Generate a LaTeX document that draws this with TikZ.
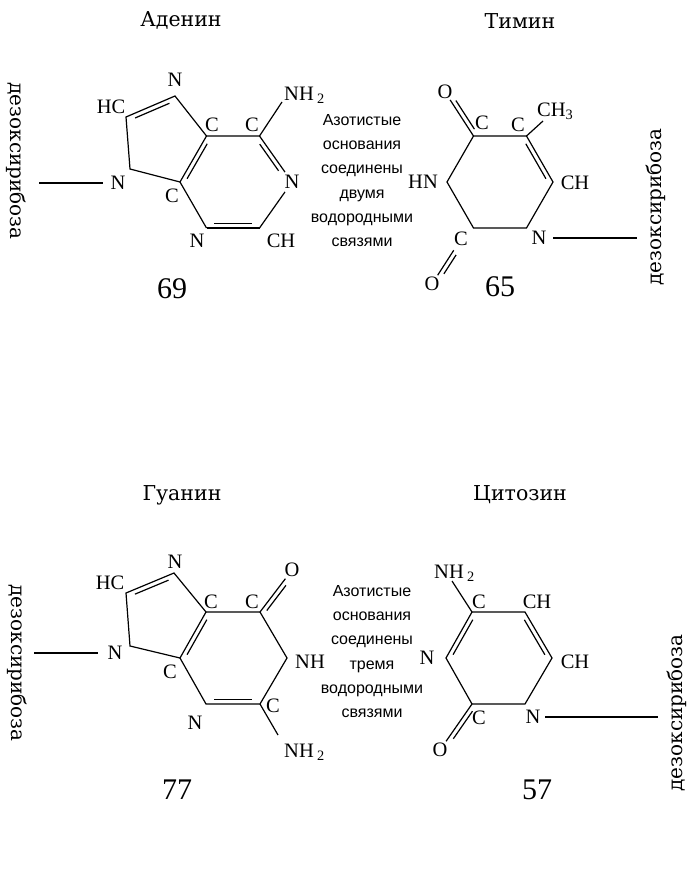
\documentclass[tikz,border=0pt]{standalone}
\usepackage{fontspec}
\setmainfont{Liberation Serif}
\setsansfont{Liberation Sans}
\newfontfamily\ttlfont{DejaVu Serif}
\usetikzlibrary{calc}
\tikzset{
  bond/.style={line width=1.2bp, black, line join=miter},
  atom/.style={inner sep=0pt, font=\fontsize{20.5bp}{24bp}\selectfont},
  ttl/.style={inner sep=0pt, font=\ttlfont\fontsize{20.5bp}{22bp}\selectfont},
  sugar/.style={inner sep=0pt, font=\ttlfont\fontsize{20bp}{22bp}\selectfont},
  num/.style={inner sep=0pt, font=\fontsize{30bp}{34bp}\selectfont},
  note/.style={inner sep=0pt, align=center, font=\sffamily\fontsize{16bp}{24.3bp}\selectfont},
}
\newcommand\dbl[5]{\draw[bond] ($(#1)!#4!(#2)!4.5bp!#3:(#2)$) -- ($(#2)!#5!(#1)!-4.5bp!#3:(#1)$);}
\begin{document}
\begin{tikzpicture}[x=1bp,y=-1bp]
\fill[white] (0,0) rectangle (694,869);
\useasboundingbox (0,0) rectangle (694,869);

% ================= Adenine =================
\node[ttl] (tA) at (181,20) {Аденин};
\node[sugar, rotate=-90] (sA) at (16,161) {дезоксирибоза};
\coordinate (a8) at (180,182);
\coordinate (a4) at (206.5,136);
\coordinate (a5) at (259.5,136);
\coordinate (a2) at (259.5,228);
\coordinate (a3) at (206.5,228);
\coordinate (ant) at (175,96);
\coordinate (ahc) at (126,117);
\coordinate (anl) at (130,169);
\coordinate (anh) at (282,102);
\coordinate (aL) at (39,183);
\node[atom, inner sep=3bp] (anr) at (292,182) {N};
\node[atom] (lahc) at (111,107) {HC};
\node[atom] (lant) at (175,80) {N};
\node[atom] (la4) at (212,125) {C};
\node[atom] (la5) at (252,125) {C};
\node[atom, anchor=west] (lanh) at (284,95) {NH\,\textsubscript{2}};
\node[atom] (la2) at (281,241) {CH};
\node[atom] (la3) at (197,241) {N};
\node[atom] (la8) at (172,196) {C};
\node[atom] (lanl) at (118,183) {N};
\draw[bond] (a3) -- (a8) -- (a4) -- (a5);
\draw[bond] (a5) -- (anr);
\draw[bond] (anr) -- (a2);
\draw[bond] (a2) -- (a3);
\draw[bond] (a4) -- (ant) -- (ahc) -- (anl) -- (a8);
\draw[bond] (a5) -- (anh);
\draw[bond, shorten >=7.6bp] (aL) -- (lanl);
\dbl{ahc}{ant}{-90}{0.15}{0.15}
\dbl{a4}{a8}{90}{0.12}{0.12}
\dbl{a5}{anr}{-90}{0.12}{0.3}
\dbl{a3}{a2}{90}{0.15}{0.15}
\node[num] (nA) at (172,289) {69};

\node[note] (noteT) at (362,180.5) {Азотистые\\основания\\соединены\\двумя\\водородными\\связями};

% ================= Thymine =================
\node[ttl] (tT) at (520,21) {Тимин};
\node[sugar, rotate=90] (sT) at (656,207) {дезоксирибоза};
\coordinate (t1) at (473.5,136);
\coordinate (t2) at (526.5,136);
\coordinate (t3) at (553,182);
\coordinate (t4) at (526.5,228);
\coordinate (t5) at (473.5,228);
\coordinate (t6) at (447,182);
\coordinate (tme) at (543,121);
\coordinate (tR) at (637,238);
\node[atom] (tO) at (445,92) {O};
\node[atom] (lt1) at (482,123) {C};
\node[atom] (lt2) at (518,125) {C};
\node[atom, anchor=west] (ltme) at (537,111) {CH\textsubscript{3}};
\node[atom] (lt3) at (575,183) {CH};
\node[atom] (lt4) at (539,238) {N};
\node[atom] (lt5) at (461,239) {C};
\node[atom] (lt6) at (423,182) {HN};
\node[atom] (tOb) at (432,284) {O};
\draw[bond] (t1) -- (t2) -- (t3) -- (t4) -- (t5) -- (t6) -- cycle;
\dbl{t2}{t3}{-90}{0.12}{0.12}
\draw[bond, shorten >=1bp] (t1) -- (tO);
\dbl{t1}{tO}{-90}{0.1}{0.25}
\draw[bond] (t2) -- (tme);
\draw[bond, shorten <=5bp, shorten >=2bp] (lt5) -- (tOb);
\draw[bond] ($(lt5)!0.3!(tOb)!4.5bp!90:(tOb)$) -- ($(tOb)!0.28!(lt5)!-4.5bp!90:(lt5)$);
\draw[bond, shorten <=6.5bp] (lt4) -- (tR);
\node[num] (nT) at (500,287) {65};

% ================= Guanine =================
\node[ttl] (tG) at (182,495) {Гуанин};
\node[sugar, rotate=-90] (sG) at (17,663) {дезоксирибоза};
\coordinate (g8) at (180,658);
\coordinate (g1) at (206,612);
\coordinate (g2) at (260,612);
\coordinate (g3) at (287,658);
\coordinate (g5) at (260,704);
\coordinate (g6) at (206,704);
\coordinate (gnt) at (174,573);
\coordinate (ghc) at (126,593);
\coordinate (gnl) at (130,646);
\coordinate (gnh) at (278,735);
\coordinate (gL) at (34,653);
\node[atom] (gO) at (292,570) {O};
\node[atom] (lghc) at (110,583) {HC};
\node[atom] (lgnt) at (175,562) {N};
\node[atom] (lg1) at (211,602) {C};
\node[atom] (lg2) at (252,602) {C};
\node[atom] (lg3) at (310,662) {NH};
\node[atom] (lg5) at (273,706) {C};
\node[atom, anchor=west] (lgnh) at (284,752) {NH\,\textsubscript{2}};
\node[atom] (lg6) at (195,723) {N};
\node[atom] (lg8) at (170,672) {C};
\node[atom] (lgnl) at (115,653) {N};
\draw[bond] (g8) -- (g1) -- (g2) -- (g3) -- (g5) -- (g6) -- cycle;
\draw[bond] (g1) -- (gnt) -- (ghc) -- (gnl) -- (g8);
\draw[bond, shorten >=2bp] (g2) -- (gO);
\dbl{g2}{gO}{-90}{0.1}{0.3}
\draw[bond] (g5) -- (gnh);
\draw[bond, shorten >=9.6bp] (gL) -- (lgnl);
\dbl{ghc}{gnt}{-90}{0.15}{0.15}
\dbl{g1}{g8}{90}{0.12}{0.12}
\dbl{g6}{g5}{90}{0.15}{0.15}
\node[num] (nG) at (177,790) {77};

\node[note] (noteB) at (372,651.5) {Азотистые\\основания\\соединены\\тремя\\водородными\\связями};

% ================= Cytosine =================
\node[ttl] (tC) at (520,495) {Цитозин};
\node[sugar, rotate=90] (sC) at (677,713) {дезоксирибоза};
\coordinate (c1) at (472,612);
\coordinate (c2) at (525,612);
\coordinate (c3) at (552,658);
\coordinate (c4) at (525,704);
\coordinate (c5) at (472,704);
\coordinate (c6) at (446,658);
\coordinate (cnh) at (452,581);
\coordinate (cR) at (658,717);
\node[atom, anchor=west] (lcnh) at (434,573) {NH\,\textsubscript{2}};
\node[atom] (lc1) at (479,602) {C};
\node[atom] (lc2) at (537,602) {CH};
\node[atom] (lc3) at (575,662) {CH};
\node[atom] (lc4) at (533,717) {N};
\node[atom] (lc5) at (479,718) {C};
\node[atom] (lc6) at (427,658) {N};
\node[atom] (cO) at (440,750) {O};
\draw[bond] (c1) -- (c2) -- (c3) -- (c4) -- (c5) -- (c6) -- cycle;
\dbl{c1}{c6}{90}{0.12}{0.12}
\dbl{c2}{c3}{-90}{0.12}{0.12}
\draw[bond] (cnh) -- (c1);
\draw[bond, shorten >=2bp] (c5) -- (cO);
\dbl{c5}{cO}{90}{0.1}{0.3}
\draw[bond, shorten <=4.6bp] (lc4) -- (cR);
\node[num] (nC) at (537,790) {57};
\end{tikzpicture}
\end{document}
